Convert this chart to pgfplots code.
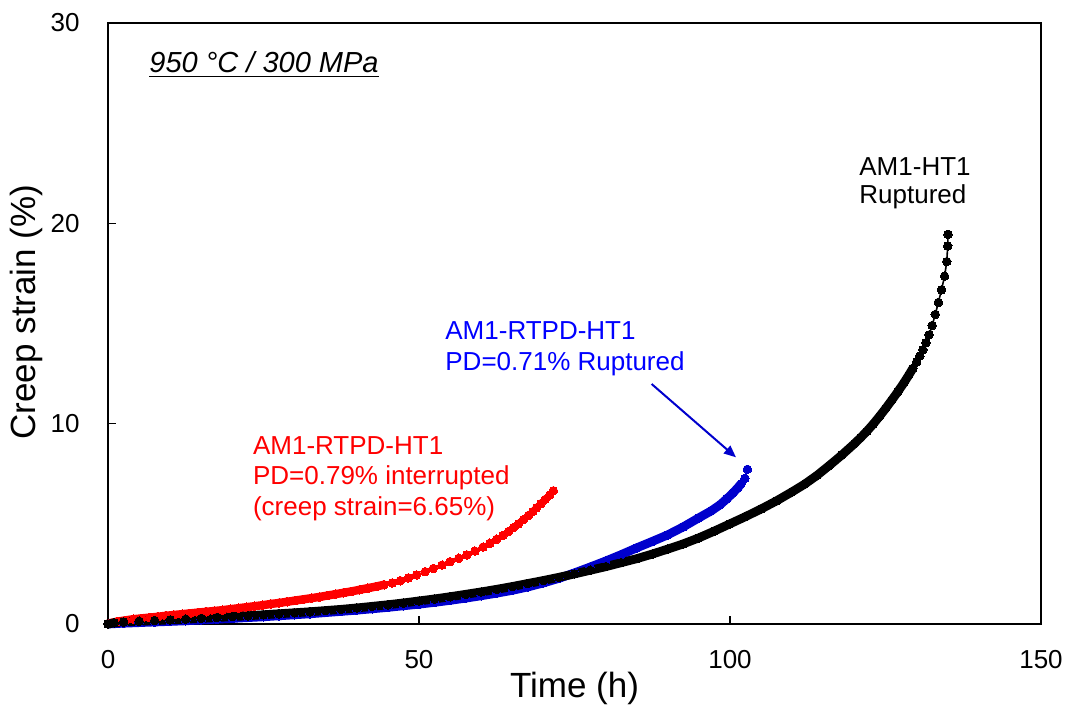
\documentclass[border=0pt]{standalone}
\usepackage{fontspec}
\setmainfont{Liberation Sans}
\usepackage{pgfplots}
\usepackage{pgfplotstable}
\pgfplotsset{compat=1.18}
\usetikzlibrary{arrows.meta}
\definecolor{bmk}{RGB}{0,0,205}
\definecolor{btx}{RGB}{0,0,255}
\definecolor{rmk}{RGB}{255,0,0}

\pgfplotstableread{
x y
0 0
1 0.06
2.5 0.10
5 0.14
7.5 0.17
10 0.20
12.5 0.24
15 0.28
17.5 0.32
20 0.37
22.5 0.41
25 0.46
27.5 0.51
30 0.56
32.5 0.61
35 0.67
37.5 0.73
40 0.80
42.5 0.88
45 0.96
47.5 1.05
50 1.15
52.5 1.25
55 1.36
57.5 1.48
60 1.60
62.5 1.73
65 1.87
67.5 2.02
70 2.17
72.5 2.33
75 2.50
77.5 2.68
80 2.86
82.5 3.06
85 3.26
87.5 3.49
90 3.74
92.5 4.00
95 4.30
97.5 4.64
100 5.00
102.5 5.36
105 5.74
107.5 6.15
110 6.60
112 6.98
114 7.42
116 7.92
118 8.44
120 9.00
121 9.30
122 9.62
123 9.97
124 10.35
125 10.75
126 11.17
127 11.60
128 12.06
128.7 12.40
129.4 12.76
130.0 13.08
130.5 13.37
131.0 13.69
131.5 14.04
132.0 14.43
132.5 14.90
133.0 15.45
133.5 16.05
134.0 16.68
134.5 17.36
134.85 18.09
135.0 18.87
135.05 19.45
}\blackdata

\pgfplotstableread{
x y
0 0
2.5 0.04
5 0.07
7.5 0.10
10 0.13
12.5 0.16
15 0.20
17.5 0.24
20 0.28
22.5 0.32
25 0.36
27.5 0.41
30 0.46
32.5 0.51
35 0.57
37.5 0.63
40 0.69
42.5 0.76
45 0.83
47.5 0.91
50 0.99
52.5 1.08
55 1.18
57.5 1.29
60 1.41
62.5 1.54
65 1.68
67.5 1.85
70 2.05
72.5 2.28
75 2.55
77.5 2.84
80 3.14
82.5 3.46
85 3.80
87.5 4.12
90 4.45
92.5 4.85
95 5.30
97 5.65
98.4 5.95
99.5 6.25
100.5 6.55
101.2 6.78
101.8 7.00
102.4 7.27
102.8 7.72
}\bluedata

\pgfplotstableread{
x y
0 0.02
1.5 0.12
2.8 0.18
4.1 0.24
5.4 0.28
6.7 0.32
8.0 0.36
9.3 0.41
10.6 0.45
11.9 0.49
13.2 0.53
14.5 0.57
15.8 0.61
17.1 0.65
18.4 0.69
19.7 0.74
21.0 0.79
22.3 0.84
23.6 0.89
24.9 0.94
26.2 1.00
27.5 1.05
28.8 1.11
30.1 1.17
31.4 1.23
32.7 1.29
34.0 1.35
35.3 1.42
36.6 1.49
37.9 1.56
39.2 1.63
40.5 1.71
41.8 1.79
43.1 1.87
44.4 1.96
45.7 2.05
47.0 2.16
48.3 2.30
49.6 2.45
51.0 2.61
52.3 2.77
53.7 2.94
55.0 3.11
56.4 3.28
57.7 3.45
59.0 3.64
60.3 3.84
61.4 4.03
62.5 4.23
63.5 4.42
64.4 4.62
65.2 4.81
66.0 5.00
66.8 5.21
67.6 5.42
68.3 5.61
68.9 5.80
69.6 6.01
70.3 6.22
71.0 6.43
71.6 6.65
}\reddata

\begin{document}
\begin{tikzpicture}
\begin{axis}[
  scale only axis, width=466.5pt, height=300.5pt,
  xmin=0, xmax=150, ymin=0, ymax=30,
  xtick={0,50,100,150}, ytick={0,10,20,30},
  tick align=inside, xtick pos=bottom, ytick pos=left,
  major tick length=4pt,
  axis line style={line width=0.7pt},
  every tick/.style={black, line width=0.7pt},
  /pgf/number format/assume math mode=true,
  tick label style={font=\fontsize{13}{15}\selectfont},
  xticklabel style={anchor=north, inner sep=0pt, yshift=-13pt},
  yticklabel style={anchor=east, inner sep=0pt, xshift=-14pt},
  xlabel={Time (h)}, ylabel={Creep strain (\%)},
  label style={font=\fontsize{17.5}{20}\selectfont},
  xlabel style={at={(axis description cs:0.5,-0.1215)}, anchor=base, inner sep=0pt},
  ylabel style={at={(axis description cs:-0.0879,0.519)}, anchor=center, inner sep=0pt},
  clip=false,
]
% red
\addplot[rmk, line width=4.2pt, no marks, line join=round, line cap=round, restrict x to domain=0:44.5] table {\reddata};
\addplot[rmk, line width=0.8pt, mark=*, mark size=2.15pt, mark options={fill=rmk, draw=rmk, line width=0pt}] table {\reddata};
% blue
\addplot[bmk, line width=4.4pt, no marks, line join=round, line cap=round, restrict x to domain=0:102.0] table {\bluedata};
\addplot[bmk, line width=0.8pt, mark=*, mark size=2.15pt, mark options={fill=bmk, draw=bmk, line width=0pt}] table {\bluedata};
% black
\addplot[black, line width=4.4pt, no marks, line join=round, line cap=round, restrict x to domain=0:129.5] table {\blackdata};
\addplot[black, line width=0.8pt, mark=*, mark size=2.15pt, mark options={fill=black, draw=black, line width=0pt}] table {\blackdata};

\draw[bmk, line width=1pt, -{Triangle[length=6pt,width=5pt]}] (axis cs:87.4,11.98) -- (axis cs:100.96,8.32);

\node[anchor=base west, inner sep=0pt, font=\fontsize{14.5}{16}\selectfont\itshape] at (axis cs:6.59,27.51) {\underline{950 °C / 300 MPa}};

\node[anchor=base west, inner sep=0pt, font=\fontsize{13}{15}\selectfont] at (axis cs:120.74,22.39) {AM1-HT1};
\node[anchor=base west, inner sep=0pt, font=\fontsize{13}{15}\selectfont] at (axis cs:120.74,20.99) {Ruptured};

\node[anchor=base west, inner sep=0pt, text=btx, font=\fontsize{13}{15}\selectfont] at (axis cs:54.18,14.21) {AM1-RTPD-HT1};
\node[anchor=base west, inner sep=0pt, text=btx, font=\fontsize{13}{15}\selectfont] at (axis cs:54.18,12.63) {PD=0.71\% Ruptured};

\node[anchor=base west, inner sep=0pt, text=rmk, font=\fontsize{13}{15}\selectfont] at (axis cs:23.26,8.44) {AM1-RTPD-HT1};
\node[anchor=base west, inner sep=0pt, text=rmk, font=\fontsize{13}{15}\selectfont] at (axis cs:23.26,6.94) {PD=0.79\% interrupted};
\node[anchor=base west, inner sep=0pt, text=rmk, font=\fontsize{13}{15}\selectfont] at (axis cs:23.26,5.44) {(creep strain=6.65\%)};
\end{axis}
\pgfresetboundingbox
\path ([xshift=-54pt,yshift=-42.5pt]current axis.south west) rectangle ([xshift=15.5pt,yshift=11.5pt]current axis.north east);
\end{tikzpicture}
\end{document}
